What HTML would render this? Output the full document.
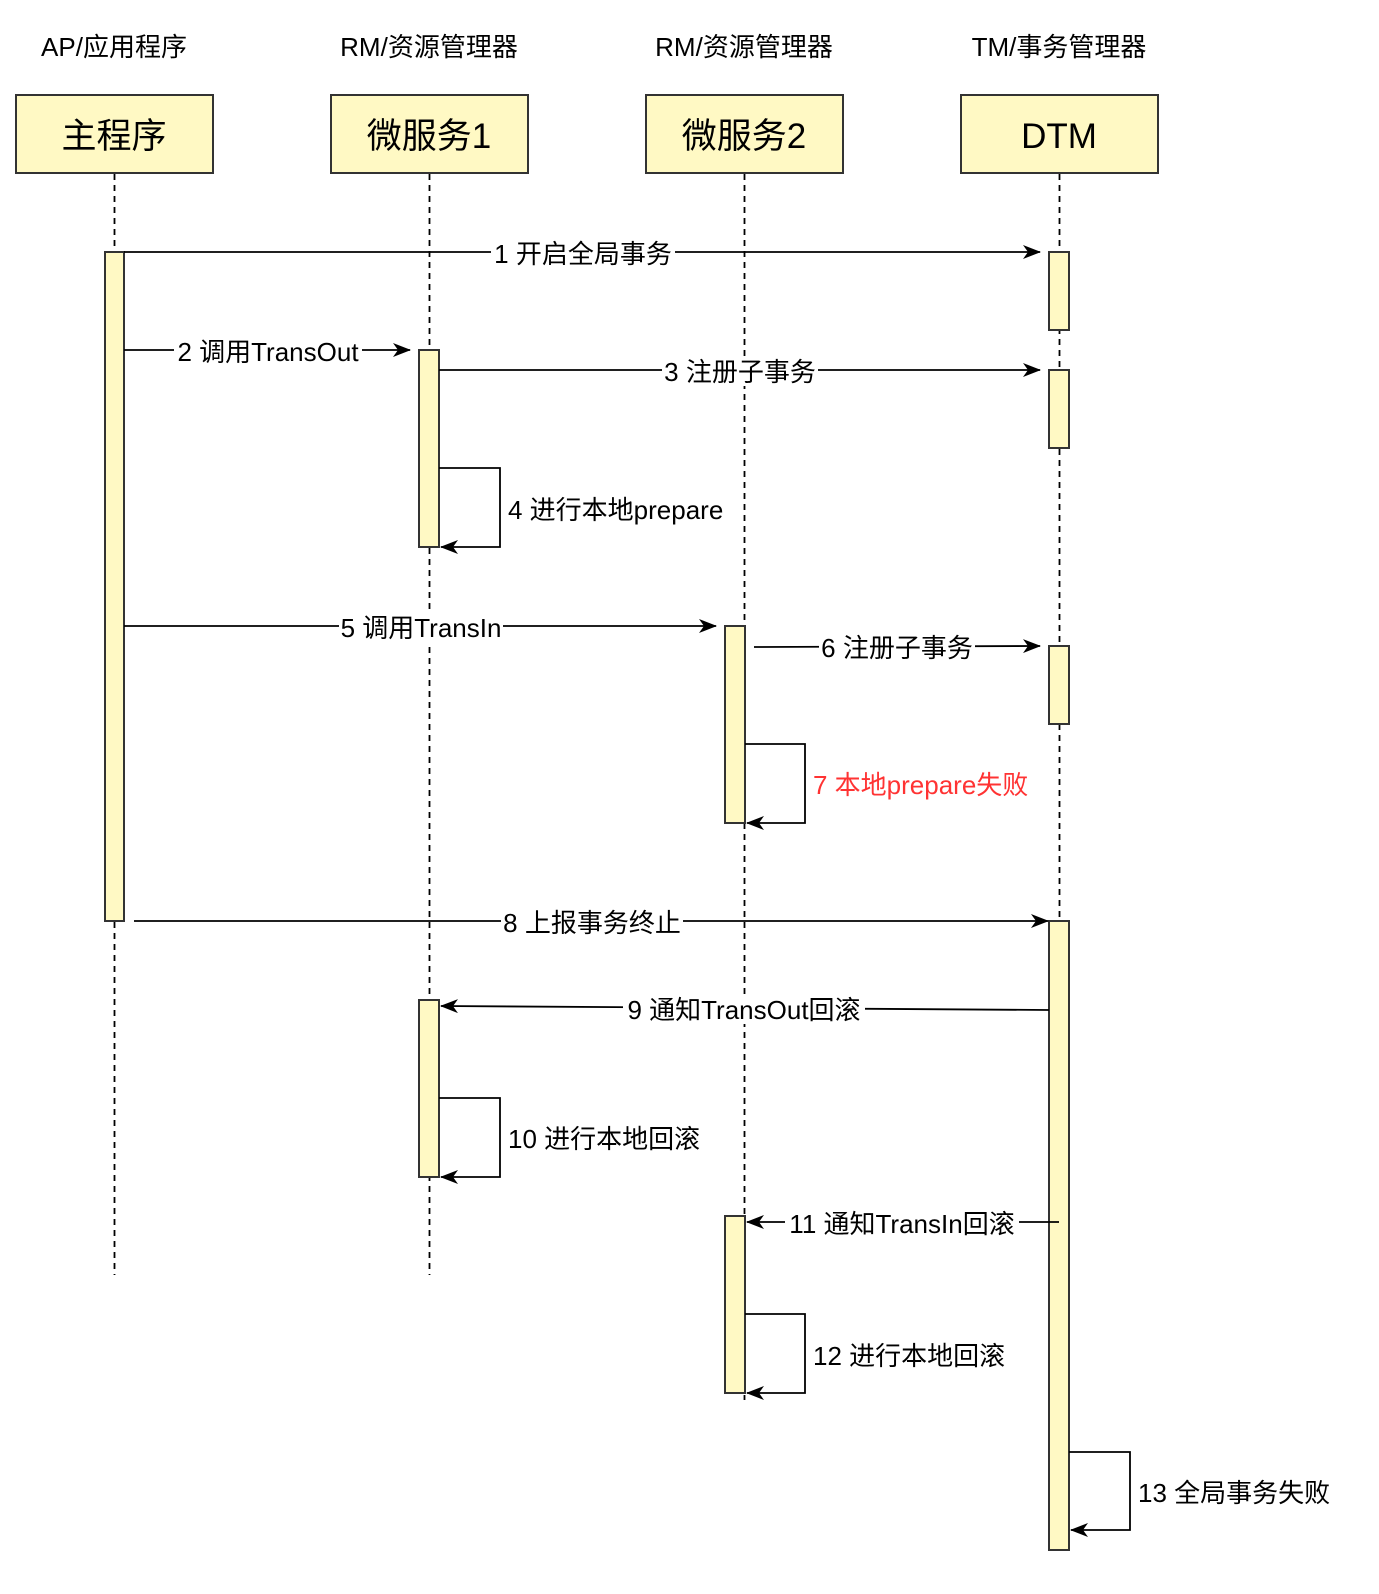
<!DOCTYPE html>
<html><head><meta charset="utf-8"><style>
html,body{margin:0;padding:0;background:#fff;overflow:hidden;}
svg{display:block;}
text{font-family:"Liberation Sans","Noto Sans CJK SC",sans-serif;}
</style></head><body>
<svg width="1379" height="1594" viewBox="0 0 1379 1594" xmlns="http://www.w3.org/2000/svg">
<defs>
<marker id="a" markerWidth="18" markerHeight="14" refX="17" refY="7" orient="auto" markerUnits="userSpaceOnUse">
<path d="M0,0 L18,7 L0,14 L5,7 Z" fill="#000"/>
</marker>
</defs>
<g font-size="26" text-anchor="middle" fill="#000">
<text x="114" y="56">AP/应用程序</text>
<text x="429" y="56">RM/资源管理器</text>
<text x="744" y="56">RM/资源管理器</text>
<text x="1059" y="56">TM/事务管理器</text>
</g>
<g stroke="#000" stroke-width="1.8" stroke-dasharray="6,5">
<line x1="114.5" y1="174" x2="114.5" y2="1275"/>
<line x1="429.5" y1="174" x2="429.5" y2="1275"/>
<line x1="744.5" y1="174" x2="744.5" y2="1400"/>
<line x1="1059.5" y1="174" x2="1059.5" y2="1550"/>
</g>
<g fill="#fff9c4" stroke="#333" stroke-width="2">
<rect x="16" y="95" width="197" height="78"/>
<rect x="331" y="95" width="197" height="78"/>
<rect x="646" y="95" width="197" height="78"/>
<rect x="961" y="95" width="197" height="78"/>
</g>
<g font-size="35" text-anchor="middle">
<text x="114" y="148">主程序</text>
<text x="429" y="148">微服务1</text>
<text x="744" y="148">微服务2</text>
<text x="1059" y="148">DTM</text>
</g>
<g fill="#fff9c4" stroke="#333" stroke-width="2">
<rect x="105" y="252" width="19" height="669"/>
<rect x="1049" y="252" width="20" height="78"/>
<rect x="1049" y="370" width="20" height="78"/>
<rect x="1049" y="646" width="20" height="78"/>
<rect x="1049" y="921" width="20" height="629"/>
<rect x="419" y="350" width="20" height="197"/>
<rect x="419" y="1000" width="20" height="177"/>
<rect x="725" y="626" width="20" height="197"/>
<rect x="725" y="1216" width="20" height="177"/>
</g>
<g stroke="#000" stroke-width="1.8" fill="none" marker-end="url(#a)">
<line x1="124" y1="252" x2="1040" y2="252"/>
<line x1="124" y1="350" x2="410" y2="350"/>
<line x1="439" y1="370" x2="1040" y2="370"/>
<polyline points="439,468 500,468 500,547 441,547"/>
<line x1="124" y1="626" x2="716" y2="626"/>
<line x1="754" y1="647" x2="1040" y2="646"/>
<polyline points="745,744 805,744 805,823 747,823"/>
<line x1="134" y1="921" x2="1048" y2="921"/>
<line x1="1049" y1="1010" x2="441" y2="1006"/>
<polyline points="439,1098 500,1098 500,1177 441,1177"/>
<line x1="1059" y1="1222" x2="747" y2="1222"/>
<polyline points="745,1314 805,1314 805,1393 747,1393"/>
<polyline points="1069,1452 1130,1452 1130,1530 1071,1530"/>
</g>
<g font-size="26" text-anchor="middle">
<rect x="491" y="240" width="184" height="28" fill="#fff"/>
<text x="583" y="263">1 开启全局事务</text>
<rect x="174" y="338" width="188" height="28" fill="#fff"/>
<text x="268" y="361">2 调用TransOut</text>
<rect x="662" y="358" width="156" height="28" fill="#fff"/>
<text x="740" y="381">3 注册子事务</text>
<rect x="339" y="614" width="164" height="28" fill="#fff"/>
<text x="421" y="637">5 调用TransIn</text>
<rect x="819" y="634" width="156" height="28" fill="#fff"/>
<text x="897" y="657">6 注册子事务</text>
<rect x="501" y="909" width="182" height="28" fill="#fff"/>
<text x="592" y="932">8 上报事务终止</text>
<rect x="623" y="996" width="242" height="28" fill="#fff"/>
<text x="744" y="1019">9 通知TransOut回滚</text>
<rect x="785" y="1210" width="234" height="28" fill="#fff"/>
<text x="902" y="1233">11 通知TransIn回滚</text>
</g>
<g font-size="26">
<text x="508" y="519">4 进行本地prepare</text>
<text x="813" y="794" fill="#ff3333">7 本地prepare失败</text>
<text x="508" y="1148">10 进行本地回滚</text>
<text x="813" y="1365">12 进行本地回滚</text>
<text x="1138" y="1502">13 全局事务失败</text>
</g>
</svg>
</body></html>
